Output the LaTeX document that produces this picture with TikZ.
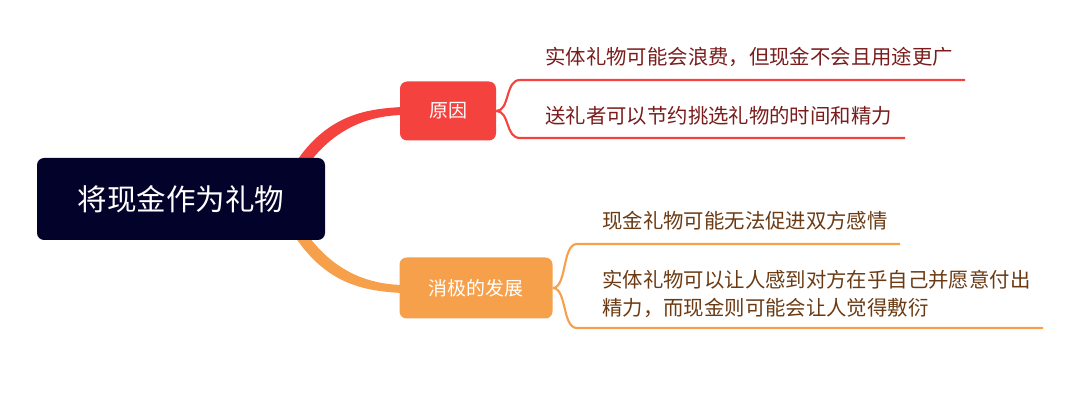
\documentclass[tikz,border=0pt]{standalone}
\usepackage{fontspec}
\setmainfont{Noto Sans CJK SC}
\usetikzlibrary{positioning}
\definecolor{rootbg}{HTML}{02022A}
\definecolor{redc}{HTML}{F4433F}
\definecolor{orangec}{HTML}{F6A04C}
\definecolor{redtxt}{HTML}{7A1C1C}
\definecolor{browntxt}{HTML}{6B3A12}
\tikzset{
  topic/.style={rounded corners=5pt, text=white, inner sep=0pt, font=\fontsize{13.5}{16}\selectfont},
  leaf/.style={anchor=west, inner sep=0pt, align=left, font=\fontsize{14.5}{19.5}\selectfont},
  branch/.style={line width=1.5pt},
}
\begin{document}
\begin{tikzpicture}[x=0.025cm,y=-0.025cm]
            \useasboundingbox (0,0) rectangle (1080,419);

            % Tapered connectors from the root
            \fill[redc] (292,168) .. controls (325,115) and (365,109) .. (402,107)
              -- (402,115) .. controls (368,116) and (333,128) .. (304,170) -- cycle;
            \fill[orangec] (292,232) .. controls (325,285) and (365,291) .. (402,293)
              -- (402,285) .. controls (368,284) and (333,272) .. (304,230) -- cycle;

            % Root and main topics
            \node[topic, fill=rootbg, minimum width=288*0.025cm, minimum height=82*0.025cm,
                  font=\fontsize{21}{24}\selectfont] (root) at (181,199) {将现金作为礼物};
            \node[topic, fill=redc, minimum width=96*0.025cm, minimum height=59*0.025cm] (reason) at (448,111) {原因};
            \node[topic, fill=orangec, minimum width=153*0.025cm, minimum height=61*0.025cm] (negative) at (476,288) {消极的发展};

            % Reason branches
            \coordinate (r1) at (965,80);
            \coordinate (r2) at (905,138);
            \draw[redc, branch] (reason.east) .. controls (510,111) and (505,80) .. (520,80) -- (r1);
            \draw[redc, branch] (reason.east) .. controls (510,111) and (505,138) .. (520,138) -- (r2);
            \node[leaf, text=redtxt] (reasonA) at (545,57) {实体礼物可能会浪费，但现金不会且用途更广};
            \node[leaf, text=redtxt] (reasonB) at (545,116) {送礼者可以节约挑选礼物的时间和精力};

            % Negative branches
            \coordinate (n1) at (900,244);
            \coordinate (n2) at (1043,328);
            \draw[orangec, branch] (negative.east) .. controls (567,288) and (562,244) .. (577,244) -- (n1);
            \draw[orangec, branch] (negative.east) .. controls (567,288) and (562,328) .. (577,328) -- (n2);
            \node[leaf, text=browntxt] (negA) at (602,221) {现金礼物可能无法促进双方感情};
            \node[leaf, text=browntxt] (negB) at (602,294) {实体礼物可以让人感到对方在乎自己并愿意付出\\精力，而现金则可能会让人觉得敷衍};

        \end{tikzpicture}
\end{document}
